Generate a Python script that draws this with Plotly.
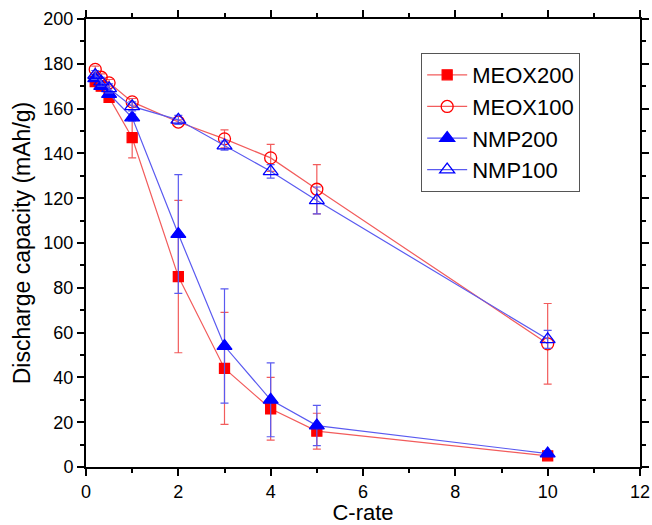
import plotly.graph_objects as go

c_rate = [0.2, 0.33, 0.5, 1, 2, 3, 4, 5, 10]

meox200 = [172, 170, 165, 147, 85, 44, 26, 16, 5]
meox200_err = [2, 2, 2, 9, 34, 25, 14, 8, 1]

meox100 = [177.5, 174, 171.5, 163, 154, 146.5, 138, 124, 55]
meox100_err = [1.5, 1.5, 1.5, 1.5, 1, 4, 6, 11, 18]

nmp200 = [173.5, 170, 166.5, 156, 104, 54, 30, 18.5, 6]
nmp200_err = [1, 1, 1, 1.5, 26.5, 25.5, 16.5, 9, 1]

nmp100 = [175, 172, 169, 161, 155, 143.5, 132, 119, 57]
nmp100_err = [2, 2, 2, 2, 2, 2, 3, 6, 4]

RED = "#FF0000"
RED_L = "#F25C5C"
BLUE = "#0000FF"
BLUE_L = "#5A5AF0"

FONT = "Arial, Liberation Sans, sans-serif"

series = [
    ("MEOX200", meox200, meox200_err, RED, RED_L, "square", 10),
    ("MEOX100", meox100, meox100_err, RED, RED_L, "circle-open", 12),
    ("NMP200", nmp200, nmp200_err, BLUE, BLUE_L, "triangle-up", 13),
    ("NMP100", nmp100, nmp100_err, BLUE, BLUE_L, "triangle-up-open", 13),
]

fig = go.Figure()
for name, y, err, mc, lc, sym, sz in series:
    fig.add_trace(go.Scatter(
        x=c_rate, y=y, name=name, mode="lines+markers",
        line=dict(color=lc, width=1.2),
        marker=dict(symbol=sym, size=sz, color=mc,
                    line=dict(color=mc, width=1.3)),
        error_y=dict(type="data", array=err, visible=True,
                     color=lc, thickness=1.2, width=4),
    ))

axis_common = dict(
    showline=True, linecolor="black", linewidth=2, mirror="allticks",
    ticks="outside", ticklen=7, tickwidth=2, tickcolor="black",
    showgrid=False, zeroline=False, automargin=False,
    tickfont=dict(family=FONT, size=18, color="black"),
)

fig.update_xaxes(
    range=[0, 12], dtick=2, tick0=0,
    minor=dict(dtick=1, ticks="outside", ticklen=4, tickwidth=2, tickcolor="black", showgrid=False),
    title=dict(text="C-rate", font=dict(family=FONT, size=22, color="black"), standoff=6),
    **axis_common,
)
fig.update_yaxes(
    range=[0, 200], dtick=20, tick0=0,
    minor=dict(dtick=10, ticks="outside", ticklen=4, tickwidth=2, tickcolor="black", showgrid=False),
    title=dict(text="Discharge capacity (mAh/g)", font=dict(family=FONT, size=23, color="black"), standoff=6),
    **axis_common,
)

fig.update_layout(
    width=652, height=525,
    margin=dict(l=86, r=12, t=19, b=58),
    paper_bgcolor="white", plot_bgcolor="white",
    legend=dict(
        x=0.605, y=0.924, xanchor="left", yanchor="top",
        bordercolor="#555555", borderwidth=1, bgcolor="white",
        font=dict(family=FONT, size=22, color="black"),
        tracegroupgap=0, itemwidth=40,
    ),
    showlegend=True,
)

fig.write_html("out.html", config={"displayModeBar": False},
               post_script="document.body.style.margin='0';")
